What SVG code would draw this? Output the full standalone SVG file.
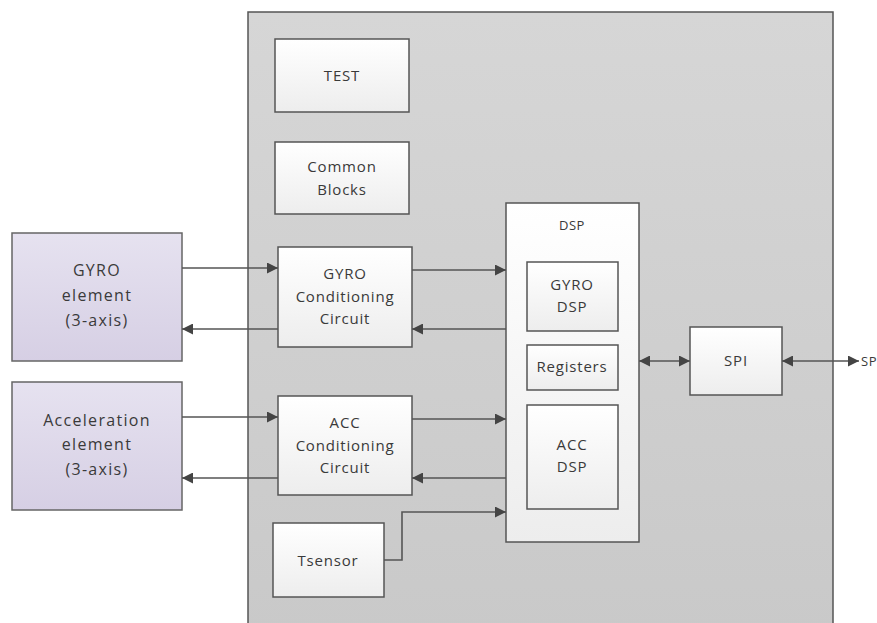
<svg xmlns="http://www.w3.org/2000/svg" width="877" height="623" viewBox="0 0 877 623">
<defs>
<linearGradient id="gWhite" x1="0" y1="0" x2="0" y2="1"><stop offset="0" stop-color="#ffffff"/><stop offset="1" stop-color="#ededed"/></linearGradient>
<linearGradient id="gPurple" x1="0" y1="0" x2="0" y2="1"><stop offset="0" stop-color="#e6e2f0"/><stop offset="1" stop-color="#d6cfe4"/></linearGradient>
<linearGradient id="gGray" x1="0" y1="0" x2="0" y2="1"><stop offset="0" stop-color="#d6d6d6"/><stop offset="1" stop-color="#c9c9c9"/></linearGradient>
<marker id="ah" viewBox="0 0 10 10" refX="10" refY="5" markerWidth="11" markerHeight="11" markerUnits="userSpaceOnUse" orient="auto-start-reverse"><path d="M0,0 L10,5 L0,10 Z" fill="#444"/></marker>
</defs>
<style>
.box{fill:url(#gWhite);stroke:#555;stroke-width:1.5}
.pbox{fill:url(#gPurple);stroke:#666;stroke-width:1.5}
.t{font-family:"Open Sans","Noto Sans",sans-serif;font-size:15px;letter-spacing:0.8px;fill:#3a3a3a;text-anchor:middle}
.tl{font-size:16px;letter-spacing:1.3px}
.c{fill:none;stroke:#555;stroke-width:1.6}
</style>
<rect x="248" y="12" width="585" height="620" fill="url(#gGray)" stroke="#555" stroke-width="1.5"/>
<g id="test"><rect class="box" x="275" y="39" width="134" height="73"/><text class="t" x="342" y="81">TEST</text></g>
<g id="common"><rect class="box" x="275" y="142" width="134" height="72"/><text class="t" x="342" y="172">Common</text><text class="t" x="342" y="195">Blocks</text></g>
<g id="gyroel"><rect class="pbox" x="12" y="233" width="170" height="128"/><text class="t tl" x="97" y="276">GYRO</text><text class="t tl" x="97" y="301">element</text><text class="t tl" x="97" y="326">(3-axis)</text></g>
<g id="accel"><rect class="pbox" x="12" y="382" width="170" height="128"/><text class="t tl" x="97" y="426">Acceleration</text><text class="t tl" x="97" y="450">element</text><text class="t tl" x="97" y="475">(3-axis)</text></g>
<g id="gyrocond"><rect class="box" x="278" y="247" width="134" height="100"/><text class="t" x="345" y="279">GYRO</text><text class="t" x="345" y="302">Conditioning</text><text class="t" x="345" y="324">Circuit</text></g>
<g id="acccond"><rect class="box" x="278" y="396" width="134" height="99"/><text class="t" x="345" y="428">ACC</text><text class="t" x="345" y="451">Conditioning</text><text class="t" x="345" y="473">Circuit</text></g>
<g id="dsp"><rect class="box" x="506" y="203" width="133" height="339"/><text class="t" x="572" y="230" style="font-size:13px;letter-spacing:0.5px">DSP</text></g>
<g id="gyrodsp"><rect class="box" x="527" y="262" width="91" height="69"/><text class="t" x="572" y="290">GYRO</text><text class="t" x="572" y="312">DSP</text></g>
<g id="registers"><rect class="box" x="527" y="345" width="91" height="45"/><text class="t" x="572" y="372">Registers</text></g>
<g id="accdsp"><rect class="box" x="527" y="405" width="91" height="104"/><text class="t" x="572" y="450">ACC</text><text class="t" x="572" y="472">DSP</text></g>
<g id="spi"><rect class="box" x="690" y="327" width="92" height="68"/><text class="t" x="736" y="366">SPI</text></g>
<g id="tsensor"><rect class="box" x="273" y="523" width="111" height="74"/><text class="t" x="328" y="566">Tsensor</text></g>
<g id="connectors">
<line class="c" x1="182" y1="268" x2="278" y2="268" marker-end="url(#ah)"/>
<line class="c" x1="278" y1="329" x2="182" y2="329" marker-end="url(#ah)"/>
<line class="c" x1="182" y1="417" x2="278" y2="417" marker-end="url(#ah)"/>
<line class="c" x1="278" y1="478" x2="182" y2="478" marker-end="url(#ah)"/>
<line class="c" x1="412" y1="270" x2="506" y2="270" marker-end="url(#ah)"/>
<line class="c" x1="506" y1="329" x2="412" y2="329" marker-end="url(#ah)"/>
<line class="c" x1="412" y1="419" x2="506" y2="419" marker-end="url(#ah)"/>
<line class="c" x1="506" y1="478" x2="412" y2="478" marker-end="url(#ah)"/>
<polyline class="c" points="384,560 402,560 402,512 506,512" marker-end="url(#ah)"/>
<line class="c" x1="639" y1="361" x2="690" y2="361" marker-start="url(#ah)" marker-end="url(#ah)"/>
<line class="c" x1="782" y1="361" x2="859" y2="361" marker-start="url(#ah)" marker-end="url(#ah)"/>
</g>
<text class="t" x="861" y="366" style="text-anchor:start;font-size:13px;letter-spacing:0.5px">SP</text>
</svg>
